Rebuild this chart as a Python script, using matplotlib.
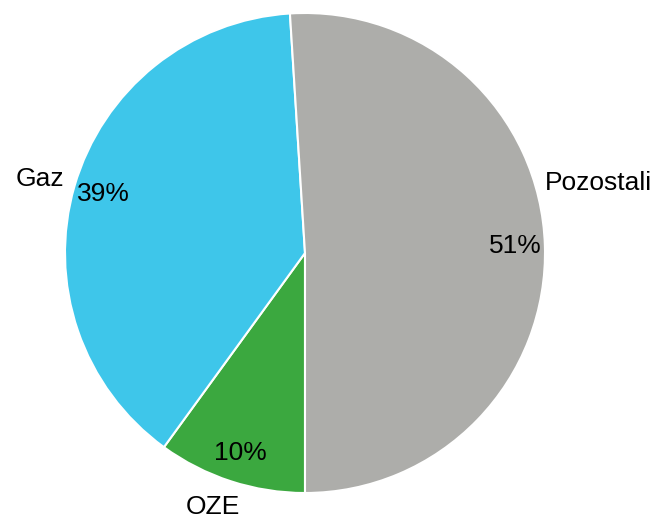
import matplotlib
matplotlib.use('Agg')
import matplotlib.pyplot as plt

# data
labels = ['OZE', 'Gaz', 'Pozostali']
values = [10, 39, 51]
colors = ['#3ba83f', '#3ec6ea', '#adadaa']
# label spots (data coords, pie radius = 1)
label_xy = [(-0.383, -1.06), (-1.104, 0.31), (1.221, 0.29)]

plt.rcParams['font.family'] = ['Liberation Sans Narrow', 'Liberation Sans', 'DejaVu Sans']

fig = plt.figure(figsize=(6.52, 5.18), dpi=100)
ax = fig.add_axes([0, 0, 1, 1])
wedges, texts, autotexts = ax.pie(values, colors=colors, startangle=270, counterclock=False,
                                  autopct='%1.0f%%', pctdistance=0.875,
                                  wedgeprops=dict(edgecolor='white', linewidth=1.5),
                                  textprops=dict(fontsize=19, color='black'))
for lab, (x, y) in zip(labels, label_xy):
    ax.text(x, y, lab, ha='center', va='center', fontsize=19)
ax.set_xlim(-305/240, 347/240)
ax.set_ylim(-265/240, 253/240)
ax.axis('off')
fig.savefig('out.png', dpi=100)
